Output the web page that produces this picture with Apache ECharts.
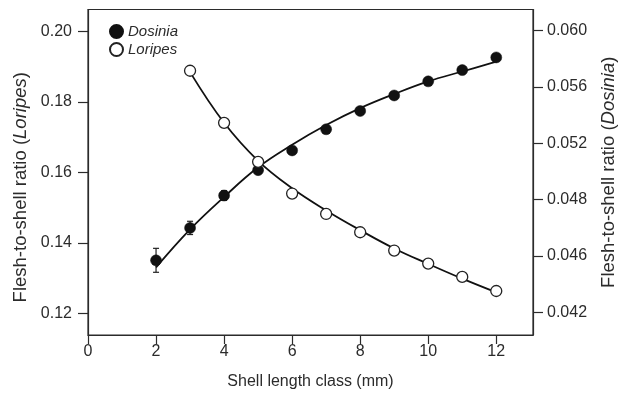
<!DOCTYPE html>
<html>
<head>
<meta charset="utf-8">
<script src="https://cdn.jsdelivr.net/npm/echarts@6/dist/echarts.min.js"></script>
<style>
  html, body { margin: 0; padding: 0; background: #fff; }
  #chart { width: 620px; height: 394px; }
</style>
</head>
<body>
<div id="chart"></div>
<script>
// shell length classes (mm)
const dosiniaClasses = [2, 3, 4, 5, 6, 7, 8, 9, 10, 11, 12];
const loripesClasses = [3, 4, 5, 6, 7, 8, 9, 10, 11, 12];

// means (Dosinia on right axis, Loripes on left axis)
const dosiniaRatio = [0.0437, 0.0460, 0.0483, 0.0501, 0.0515, 0.0530, 0.0543, 0.0554, 0.0564, 0.0572, 0.0581];
const dosiniaError = [0.00085, 0.00047, 0.00035, 0, 0, 0, 0, 0, 0, 0, 0];
const loripesRatio = [0.1889, 0.1741, 0.1630, 0.1540, 0.1482, 0.1430, 0.1378, 0.1341, 0.1303, 0.1263];

const dosiniaFit = [0.0432, 0.0459, 0.0482, 0.0503, 0.0519, 0.0533, 0.0545, 0.0555, 0.0564, 0.0571, 0.0578];
const loripesFit = [0.1885, 0.1741, 0.1633, 0.1555, 0.1492, 0.1436, 0.1384, 0.1340, 0.1298, 0.1259];

// tick labels
const xTicks = [0, 2, 4, 6, 8, 10, 12];
const leftTicks = [0.12, 0.14, 0.16, 0.18, 0.20];
const rightTickValues = [0.040, 0.044, 0.048, 0.052, 0.056, 0.060];
const rightTickLabels = ['0.042', '0.046', '0.048', '0.052', '0.056', '0.060'];

const font = '"Liberation Sans", Arial, sans-serif';
const ink = '#2b2b2b';

const pairs = (xs, ys) => xs.map((x, i) => [x, ys[i]]);

const chart = echarts.init(document.getElementById('chart'));

const option = {
  backgroundColor: '#fff',
  animation: false,
  textStyle: { fontFamily: font },
  grid: {
    left: 88,
    right: 87,
    top: 9.5,
    bottom: 59,
    outerBoundsMode: 'none',
    show: true,
    borderColor: ink,
    borderWidth: 1.2,
    backgroundColor: 'transparent'
  },
  legend: {
    orient: 'vertical',
    left: 104,
    top: 19,
    itemWidth: 13,
    itemHeight: 13,
    itemGap: 3,
    data: ['Dosinia', 'Loripes'],
    textStyle: { fontSize: 15, fontStyle: 'italic', color: ink, fontFamily: font }
  },
  xAxis: {
    type: 'value',
    min: 0,
    max: 13.08,
    name: 'Shell length class (mm)',
    nameLocation: 'middle',
    nameGap: 39,
    nameTextStyle: { fontSize: 16, color: ink },
    splitLine: { show: false },
    axisLine: { lineStyle: { color: ink, width: 1.2 } },
    axisTick: { length: 9, customValues: xTicks, lineStyle: { color: ink, width: 1.2 } },
    axisLabel: { customValues: xTicks, fontSize: 16, color: ink, margin: 9 }
  },
  yAxis: [
    {
      type: 'value',
      min: 0.1138,
      max: 0.2063,
      name: 'Flesh-to-shell ratio ({i|Loripes})',
      nameLocation: 'middle',
      nameGap: 55,
      nameTextStyle: {
        fontSize: 18.5,
        color: ink,
        padding: [0, 30, 0, 0],
        rich: { i: { fontSize: 18.5, fontStyle: 'italic', color: ink } }
      },
      splitLine: { show: false },
      axisLine: { lineStyle: { color: ink, width: 1.2 } },
      axisTick: { length: 10, customValues: leftTicks, lineStyle: { color: ink, width: 1.2 } },
      axisLabel: {
        customValues: leftTicks,
        fontSize: 16,
        color: ink,
        margin: 16,
        formatter: v => v.toFixed(2)
      }
    },
    {
      type: 'value',
      position: 'right',
      min: 0.0384,
      max: 0.0615,
      name: 'Flesh-to-shell ratio ({i|Dosinia})',
      nameLocation: 'middle',
      nameGap: 66,
      nameRotate: 90,
      nameTextStyle: {
        fontSize: 18.5,
        color: ink,
        rich: { i: { fontSize: 18.5, fontStyle: 'italic', color: ink } }
      },
      splitLine: { show: false },
      axisLine: { lineStyle: { color: ink, width: 1.2 } },
      axisTick: { length: 10, customValues: rightTickValues, lineStyle: { color: ink, width: 1.2 } },
      axisLabel: {
        customValues: rightTickValues,
        fontSize: 16,
        color: ink,
        margin: 14,
        formatter: v => {
          const i = rightTickValues.findIndex(t => Math.abs(t - v) < 1e-6);
          return i >= 0 ? rightTickLabels[i] : '';
        }
      }
    }
  ],
  series: [
    {
      name: 'Dosinia fit',
      type: 'line',
      yAxisIndex: 1,
      data: pairs(dosiniaClasses, dosiniaFit),
      smooth: 0.4,
      showSymbol: false,
      lineStyle: { color: '#111', width: 1.8 },
      silent: true
    },
    {
      name: 'Loripes fit',
      type: 'line',
      yAxisIndex: 0,
      data: pairs(loripesClasses, loripesFit),
      smooth: 0.4,
      showSymbol: false,
      lineStyle: { color: '#111', width: 1.8 },
      silent: true
    },
    {
      name: 'Dosinia error',
      type: 'custom',
      yAxisIndex: 1,
      data: dosiniaClasses.map((x, i) => [x, dosiniaRatio[i], dosiniaError[i]]),
      renderItem: (params, api) => {
        const x = api.value(0);
        const y = api.value(1);
        const e = api.value(2);
        const top = api.coord([x, y + e]);
        const bot = api.coord([x, y - e]);
        const w = 3;
        const style = { stroke: '#222', lineWidth: 1.2 };
        return {
          type: 'group',
          children: [
            { type: 'line', shape: { x1: top[0], y1: top[1], x2: bot[0], y2: bot[1] }, style },
            { type: 'line', shape: { x1: top[0] - w, y1: top[1], x2: top[0] + w, y2: top[1] }, style },
            { type: 'line', shape: { x1: bot[0] - w, y1: bot[1], x2: bot[0] + w, y2: bot[1] }, style }
          ]
        };
      },
      z: 3
    },
    {
      name: 'Dosinia',
      type: 'scatter',
      yAxisIndex: 1,
      data: pairs(dosiniaClasses, dosiniaRatio),
      symbol: 'circle',
      symbolSize: 11,
      itemStyle: { color: '#111', borderColor: '#111', borderWidth: 0.5, opacity: 1 },
      z: 4
    },
    {
      name: 'Loripes',
      type: 'scatter',
      yAxisIndex: 0,
      data: pairs(loripesClasses, loripesRatio),
      symbol: 'circle',
      symbolSize: 11,
      itemStyle: { color: '#fff', borderColor: '#222', borderWidth: 1.3, opacity: 1 },
      z: 5
    }
  ]
};

chart.setOption(option);
</script>
</body>
</html>
